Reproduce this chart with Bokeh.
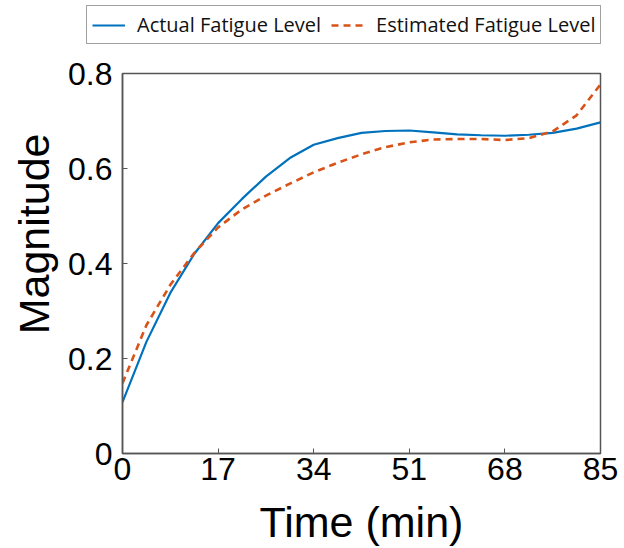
from bokeh.plotting import figure
from bokeh.models import Legend, LegendItem, FixedTicker, Range1d, Title
from bokeh.layouts import column
from bokeh.embed import file_html
from bokeh.resources import INLINE

time_min = [0, 4.25, 8.5, 12.75, 17, 21.25, 25.5, 29.75, 34, 38.25, 42.5,
            46.75, 51, 55.25, 59.5, 63.75, 68, 72.25, 76.5, 80.75, 85]
actual_fatigue = [0.108, 0.235, 0.338, 0.420, 0.485, 0.536, 0.583, 0.622, 0.650, 0.664, 0.675,
                  0.679, 0.680, 0.676, 0.672, 0.670, 0.669, 0.671, 0.675, 0.684, 0.697]
estimated_fatigue = [0.148, 0.270, 0.355, 0.422, 0.476, 0.514, 0.543, 0.568, 0.592, 0.612, 0.630,
                     0.645, 0.655, 0.661, 0.662, 0.662, 0.660, 0.664, 0.678, 0.712, 0.777]
x_ticks = [0, 17, 34, 51, 68, 85]
y_ticks = [0, 0.2, 0.4, 0.6, 0.8]
y_tick_labels = ["0", "0.2", "0.4", "0.6", "0.8"]
series_names = ["Actual Fatigue Level", "Estimated Fatigue Level"]

BLUE = "#0072BD"
ORANGE = "#D95319"
FRAME = "#555555"
NAN = float("nan")

# ---- legend strip ----
lg = figure(width=624, height=46, output_backend="svg", toolbar_location=None,
            x_range=Range1d(0, 1), y_range=Range1d(0, 1),
            min_border=0, min_border_left=0, min_border_right=0,
            min_border_top=0, min_border_bottom=0, frame_align=False)
lg.axis.visible = False
lg.grid.visible = False
lg.outline_line_color = None
lr1 = lg.line([NAN], [NAN], line_color=BLUE, line_width=2.2)
lr2 = lg.line([NAN], [NAN], line_color=ORANGE, line_width=2.6, line_dash="7 5")
legend = Legend(items=[LegendItem(label=series_names[0], renderers=[lr1]),
                       LegendItem(label=series_names[1], renderers=[lr2])],
                orientation="horizontal", location=(86, 2))
legend.label_text_font = "Open Sans"
legend.label_text_font_size = "20px"
legend.label_text_color = "#111111"
legend.border_line_color = "#444444"
legend.border_line_width = 1.2
legend.background_fill_alpha = 1
legend.padding = 5
legend.margin = 0
legend.spacing = 10
legend.glyph_width = 33
legend.label_standoff = 12
lg.add_layout(legend, "center")

# ---- main plot ----
p = figure(width=624, height=502, output_backend="svg", toolbar_location=None,
           x_range=Range1d(0, 85), y_range=Range1d(0, 0.8),
           min_border_left=121, min_border_right=24, min_border_top=27, min_border_bottom=95,
           frame_align=False)

p.grid.visible = False
p.outline_line_color = FRAME
p.outline_line_width = 1.5

p.line(time_min, actual_fatigue, line_color=BLUE, line_width=2.2)
p.line(time_min, estimated_fatigue, line_color=ORANGE, line_width=2.6, line_dash="7 5")

for ax in (p.xaxis[0], p.yaxis[0]):
    ax.major_label_text_font = "Liberation Sans"
    ax.major_label_text_font_size = "32px"
    ax.major_label_text_color = "black"
    ax.axis_label_text_font = "Liberation Sans"
    ax.axis_label_text_font_size = "43px"
    ax.axis_label_text_font_style = "normal"
    ax.axis_label_text_color = "black"
    ax.axis_line_color = FRAME
    ax.axis_line_width = 1.5
    ax.major_tick_in = 5
    ax.major_tick_out = 0
    ax.major_tick_line_color = FRAME
    ax.minor_tick_line_color = None

p.xaxis.ticker = FixedTicker(ticks=x_ticks)
p.yaxis.ticker = FixedTicker(ticks=y_ticks)
p.yaxis.major_label_overrides = {t: s for t, s in zip(y_ticks, y_tick_labels)}
p.xaxis.axis_label = "Time (min)"
p.xaxis.major_label_standoff = 4
p.yaxis.major_label_standoff = 10
p.xaxis.axis_label_standoff = 15

ylab = Title(text="Magnitude", align="right", offset=60,
             text_font="Liberation Sans", text_font_size="43px",
             text_font_style="normal", text_color="black", standoff=15)
p.add_layout(ylab, "left")

layout = column(lg, p, spacing=0)
open("out.html", "w").write(file_html(layout, INLINE))
